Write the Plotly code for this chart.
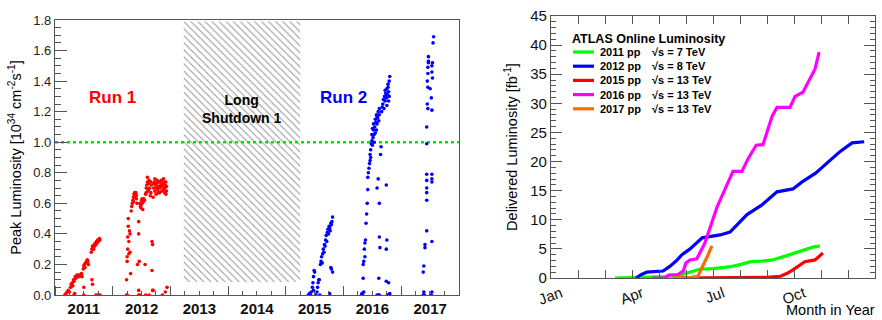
import datetime as dt
import plotly.graph_objects as go

# ---------------- Peak luminosity per fill (decimal year, 1e34 cm^-2 s^-1) ----------------
run1_2011_t = [2011.17, 2011.19, 2011.21, 2011.23, 2011.25, 2011.27, 2011.28, 2011.30, 2011.31, 2011.32,
               2011.33, 2011.35, 2011.36, 2011.38, 2011.39, 2011.41, 2011.42, 2011.44, 2011.46, 2011.47,
               2011.49, 2011.50, 2011.51, 2011.52, 2011.53, 2011.55, 2011.56, 2011.57, 2011.58, 2011.63,
               2011.64, 2011.65, 2011.66, 2011.67, 2011.68, 2011.69, 2011.70, 2011.71, 2011.72, 2011.73,
               2011.74, 2011.75, 2011.76, 2011.77, 2011.78, 2011.34, 2011.33, 2011.50, 2011.50, 2011.64,
               2011.65, 2011.71, 2011.74, 2011.78]
run1_2011_l = [0.00, 0.01, 0.02, 0.03, 0.02, 0.05, 0.07, 0.08, 0.06, 0.10,
               0.09, 0.12, 0.11, 0.13, 0.12, 0.13, 0.12, 0.13, 0.14, 0.12,
               0.17, 0.19, 0.20, 0.18, 0.21, 0.22, 0.23, 0.22, 0.20, 0.28,
               0.30, 0.32, 0.31, 0.30, 0.33, 0.32, 0.34, 0.33, 0.35, 0.34,
               0.36, 0.35, 0.36, 0.37, 0.36, 0.01, 0.00, 0.00, 0.05, 0.10,
               0.07, 0.00, 0.00, 0.00]

run1_2012_t = [2012.24, 2012.24, 2012.25, 2012.25, 2012.26, 2012.26, 2012.27, 2012.27, 2012.28, 2012.28,
               2012.29, 2012.30, 2012.30, 2012.31, 2012.32, 2012.33, 2012.34, 2012.35, 2012.36, 2012.37,
               2012.38, 2012.39, 2012.40, 2012.41, 2012.42, 2012.43, 2012.45, 2012.45, 2012.46, 2012.47,
               2012.48, 2012.49, 2012.50, 2012.51, 2012.52, 2012.53, 2012.54, 2012.55, 2012.56, 2012.57,
               2012.58, 2012.59, 2012.60, 2012.61, 2012.62, 2012.63, 2012.64, 2012.65, 2012.66, 2012.67,
               2012.68, 2012.68, 2012.69, 2012.70, 2012.71, 2012.72, 2012.73, 2012.74, 2012.75, 2012.76,
               2012.77, 2012.78, 2012.79, 2012.80, 2012.81, 2012.82, 2012.83, 2012.84, 2012.85, 2012.86,
               2012.87, 2012.88, 2012.89, 2012.90, 2012.91, 2012.92, 2012.93, 2012.25, 2012.45, 2012.48,
               2012.57, 2012.69, 2012.70, 2012.63, 2012.86, 2012.91, 2012.94, 2012.45,
               2012.36, 2012.38, 2012.40, 2012.41, 2012.49, 2012.51, 2012.58, 2012.60, 2012.62, 2012.66,
               2012.71, 2012.73, 2012.76, 2012.79, 2012.82, 2012.85, 2012.88, 2012.90, 2012.92, 2012.93]
run1_2012_l = [0.00, 0.10, 0.22, 0.25, 0.30, 0.38, 0.45, 0.50, 0.27, 0.35,
               0.42, 0.40, 0.28, 0.14, 0.55, 0.58, 0.60, 0.62, 0.64, 0.66,
               0.67, 0.65, 0.66, 0.63, 0.60, 0.20, 0.48, 0.40, 0.22, 0.60,
               0.58, 0.57, 0.62, 0.60, 0.56, 0.61, 0.63, 0.62, 0.20, 0.66,
               0.70, 0.72, 0.77, 0.68, 0.73, 0.75, 0.70, 0.65, 0.67, 0.72,
               0.35, 0.16, 0.33, 0.64, 0.70, 0.74, 0.68, 0.72, 0.66, 0.73,
               0.75, 0.69, 0.71, 0.74, 0.67, 0.70, 0.72, 0.75, 0.68, 0.71,
               0.73, 0.69, 0.74, 0.70, 0.72, 0.66, 0.71, 0.00, 0.00, 0.00,
               0.00, 0.03, 0.03, 0.00, 0.00, 0.02, 0.05, 0.03,
               0.61, 0.64, 0.67, 0.65, 0.59, 0.63, 0.67, 0.74, 0.69, 0.74,
               0.73, 0.76, 0.70, 0.67, 0.74, 0.72, 0.76, 0.67, 0.74, 0.68]

run2_2015_t = [2015.39, 2015.41, 2015.43, 2015.44, 2015.46, 2015.47, 2015.48, 2015.49, 2015.50, 2015.48,
               2015.52, 2015.54, 2015.55, 2015.56, 2015.57, 2015.58, 2015.59, 2015.60, 2015.61, 2015.62,
               2015.63, 2015.64, 2015.65, 2015.66, 2015.67, 2015.68, 2015.69, 2015.70, 2015.71, 2015.72,
               2015.73, 2015.74, 2015.75, 2015.76, 2015.77, 2015.78, 2015.79, 2015.80, 2015.81, 2015.79,
               2015.81, 2015.76, 2015.78]
run2_2015_l = [0.00, 0.01, 0.00, 0.02, 0.05, 0.08, 0.12, 0.16, 0.15, 0.03,
               0.00, 0.02, 0.05, 0.08, 0.10, 0.10, 0.00, 0.20, 0.22, 0.25,
               0.21, 0.27, 0.30, 0.28, 0.33, 0.32, 0.36, 0.39, 0.35, 0.41,
               0.43, 0.40, 0.45, 0.44, 0.42, 0.47, 0.46, 0.48, 0.51, 0.17,
               0.15, 0.01, 0.18]

run2_2016_t = [2016.31, 2016.32, 2016.33, 2016.35, 2016.34, 2016.34, 2016.35, 2016.36, 2016.37, 2016.38,
               2016.37, 2016.39, 2016.40, 2016.41, 2016.42, 2016.42, 2016.43, 2016.44, 2016.45, 2016.46,
               2016.46, 2016.47, 2016.48, 2016.49, 2016.49, 2016.50, 2016.51, 2016.52, 2016.52, 2016.53,
               2016.54, 2016.55, 2016.56, 2016.57, 2016.57, 2016.58, 2016.59, 2016.60, 2016.61, 2016.62,
               2016.62, 2016.58, 2016.60, 2016.62, 2016.62, 2016.63, 2016.61, 2016.58, 2016.60, 2016.62,
               2016.64, 2016.66, 2016.68, 2016.69, 2016.70, 2016.71, 2016.72, 2016.73, 2016.74, 2016.75,
               2016.75, 2016.76, 2016.77, 2016.78, 2016.79, 2016.80, 2016.78, 2016.74, 2016.75, 2016.74,
               2016.74, 2016.78, 2016.76, 2016.79, 2016.80,
               2016.47, 2016.50, 2016.53, 2016.55, 2016.58, 2016.65, 2016.67, 2016.72, 2016.77, 2016.79]
run2_2016_l = [0.00, 0.01, 0.00, 0.02, 0.11, 0.20, 0.22, 0.30, 0.34, 0.36,
               0.25, 0.47, 0.53, 0.60, 0.69, 0.77, 0.80, 0.83, 0.86, 0.88,
               0.92, 0.95, 0.99, 1.01, 1.05, 0.98, 1.03, 1.08, 1.12, 1.05,
               1.10, 1.15, 1.13, 1.18, 1.08, 1.12, 1.16, 1.20, 1.14, 1.18,
               1.22, 0.70, 0.76, 0.60, 0.38, 0.31, 0.11, 0.00, 0.00, 0.00,
               0.92, 1.20, 1.25, 1.28, 1.22, 1.30, 1.27, 1.32, 1.29, 1.35,
               1.24, 1.31, 1.38, 1.33, 1.40, 1.43, 1.27, 0.72, 0.36, 0.30,
               0.09, 0.08, 0.00, 0.00, 0.01,
               0.90, 1.09, 1.00, 1.06, 1.17, 0.97, 1.23, 1.34, 1.36, 1.30]

run2_2017_t = [2017.38, 2017.39, 2017.40, 2017.38, 2017.39, 2017.41, 2017.41, 2017.44, 2017.44, 2017.44,
               2017.44, 2017.44, 2017.44, 2017.53, 2017.53, 2017.53, 2017.53, 2017.53, 2017.52, 2017.44,
               2017.44, 2017.45, 2017.46, 2017.53, 2017.52, 2017.50, 2017.46, 2017.46, 2017.46, 2017.47,
               2017.53, 2017.53, 2017.54, 2017.47, 2017.47, 2017.55, 2017.56, 2017.45, 2017.54]
run2_2017_l = [0.00, 0.02, 0.00, 0.15, 0.19, 0.31, 0.33, 0.42, 0.62, 0.67,
               0.70, 0.75, 0.79, 0.79, 0.76, 0.74, 0.35, 0.02, 0.00, 0.99,
               1.10, 1.25, 1.22, 1.21, 1.29, 1.35, 1.36, 1.45, 1.49, 1.52,
               1.46, 1.50, 1.52, 1.53, 1.56, 1.65, 1.69, 1.40, 1.42]

design_lumi = 1.0                         # nominal LHC design peak luminosity
shutdown_start, shutdown_end = 2013.23, 2015.25
shutdown_band = (0.085, 1.79)
year_edges = ("2011-01-01", "2018-01-01")

# ---------------- Cumulative delivered luminosity (month of year, fb^-1) ----------------
month_names = ["Jan", "Apr", "Jul", "Oct"]
month_pos = [0, 3, 6, 9]

cum_2011_m = [2.37, 3.0, 3.8, 4.3, 4.78, 5.1, 5.5, 6.0, 6.6, 7.0, 7.4, 7.8, 8.2, 8.7, 9.15, 9.7, 9.96]
cum_2011_l = [0.0, 0.1, 0.2, 0.25, 0.5, 1.0, 1.5, 1.6, 1.9, 2.3, 2.8, 2.9, 3.1, 3.8, 4.5, 5.3, 5.5]

cum_2012_m = [3.15, 3.35, 3.55, 3.9, 4.15, 4.4, 4.65, 4.85, 5.15, 5.6, 6.26, 6.63, 7.26, 7.8, 8.37, 8.96,
              9.3, 9.8, 10.4, 10.7, 11.15, 11.6]
cum_2012_l = [0.0, 0.6, 1.0, 1.1, 1.2, 2.0, 3.0, 4.0, 5.0, 6.9, 7.4, 7.9, 10.9, 12.5, 14.8, 15.3,
              16.5, 18.0, 20.5, 21.7, 23.2, 23.4]

cum_2015_m = [4.65, 6.0, 7.0, 8.0, 8.5, 8.75, 8.96, 9.2, 9.4, 9.78, 10.07]
cum_2015_l = [0.0, 0.02, 0.05, 0.1, 0.3, 0.8, 1.4, 2.2, 2.8, 3.1, 4.3]

cum_2016_m = [3.75, 4.2, 4.35, 4.7, 4.9, 5.0, 5.15, 5.4, 5.7, 6.15, 6.74, 7.07, 7.3, 7.6, 7.85,
              8.19, 8.37, 8.85, 9.04, 9.33, 9.52, 9.78, 9.93]
cum_2016_l = [0.0, 0.0, 0.5, 0.6, 1.2, 2.6, 3.1, 3.3, 6.0, 12.2, 18.3, 18.3, 20.5, 22.8, 22.9,
              27.8, 29.3, 29.3, 31.2, 31.9, 33.6, 35.9, 38.8]

cum_2017_m = [4.5, 4.8, 5.2, 5.44, 5.6, 5.8, 5.96]
cum_2017_l = [0.0, 0.05, 0.1, 0.3, 1.8, 3.8, 5.5]

series_years = ["2011 pp", "2012 pp", "2015 pp", "2016 pp", "2017 pp"]
series_energy = ["√s = 7 TeV", "√s = 8 TeV", "√s = 13 TeV", "√s = 13 TeV", "√s = 13 TeV"]
series_colors = ["#00ff00", "#0000ff", "#ff0000", "#ff00ff", "#ff6a00"]

FONT = "Liberation Sans, Arial, Helvetica, sans-serif"
AXIS = "#555555"
W, H = 882, 320


def to_date(decimal_year):
    """Turn a decimal year into a datetime for the date axis."""
    year = int(decimal_year)
    start = dt.datetime(year, 1, 1)
    length = (dt.datetime(year + 1, 1, 1) - start).total_seconds()
    return start + dt.timedelta(seconds=(decimal_year - year) * length)


def px_x(p):
    return p / W


def px_y(p):
    return 1 - p / H


fig = go.Figure()

# Long Shutdown 1 hatched band
band_x = [to_date(shutdown_start), to_date(shutdown_end), to_date(shutdown_end),
          to_date(shutdown_start), to_date(shutdown_start)]
band_y = [shutdown_band[0], shutdown_band[0], shutdown_band[1], shutdown_band[1], shutdown_band[0]]
fig.add_trace(go.Scatter(
    x=band_x, y=band_y, mode="lines", fill="toself", line=dict(width=0),
    fillcolor="rgba(0,0,0,0)",
    fillpattern=dict(shape="\\", fgcolor="#2a2a2a", bgcolor="white", size=5, solidity=0.2),
    xaxis="x", yaxis="y", showlegend=False, hoverinfo="skip"))

# design luminosity reference line
fig.add_trace(go.Scatter(
    x=list(year_edges), y=[design_lumi, design_lumi], mode="lines",
    line=dict(color="#00e600", width=2.5, dash="dot"),
    xaxis="x", yaxis="y", showlegend=False, hoverinfo="skip"))

peak_sets = [(run1_2011_t, run1_2011_l, "red"), (run1_2012_t, run1_2012_l, "red"),
             (run2_2015_t, run2_2015_l, "blue"), (run2_2016_t, run2_2016_l, "blue"),
             (run2_2017_t, run2_2017_l, "blue")]
for t, lum, col in peak_sets:
    fig.add_trace(go.Scatter(
        x=[to_date(v) for v in t], y=lum, mode="markers",
        marker=dict(color=col, size=3.6, line=dict(width=0)),
        xaxis="x", yaxis="y", showlegend=False))

# cumulative luminosity curves
cum_sets = [(cum_2011_m, cum_2011_l), (cum_2012_m, cum_2012_l), (cum_2015_m, cum_2015_l),
            (cum_2016_m, cum_2016_l), (cum_2017_m, cum_2017_l)]
for (m, lum), name, col in zip(cum_sets, series_years, series_colors):
    fig.add_trace(go.Scatter(
        x=m, y=lum, mode="lines", name=name,
        line=dict(color=col, width=3.2),
        xaxis="x2", yaxis="y2", showlegend=False))

annotations = [
    dict(x=to_date(2012.0), y=1.29, xref="x", yref="y", text="<b>Run 1</b>", showarrow=False,
         font=dict(family=FONT, size=17, color="red")),
    dict(x=to_date(2014.24), y=1.22, xref="x", yref="y", text="<b>Long<br>Shutdown 1</b>",
         showarrow=False, font=dict(family=FONT, size=14, color="black")),
    dict(x=to_date(2016.0), y=1.29, xref="x", yref="y", text="<b>Run 2</b>", showarrow=False,
         font=dict(family=FONT, size=17, color="blue")),
    dict(x=px_x(877), y=px_y(310), xref="paper", yref="paper", text="Month in Year",
         showarrow=False, xanchor="right", yanchor="middle",
         font=dict(family=FONT, size=14.5, color="black")),
    dict(x=px_x(570), y=px_y(39), xref="paper", yref="paper",
         text="<b>ATLAS Online Luminosity</b>", showarrow=False,
         xanchor="left", yanchor="middle", font=dict(family=FONT, size=12.5, color="black")),
]

# hand-placed legend block
shapes = []
for i, (yr, en, col) in enumerate(zip(series_years, series_energy, series_colors)):
    yc = px_y(52 + 14.2 * i)
    shapes.append(dict(type="line", xref="paper", yref="paper",
                       x0=px_x(573), x1=px_x(594), y0=yc, y1=yc,
                       line=dict(color=col, width=3.2)))
    annotations.append(dict(x=px_x(598), y=yc, xref="paper", yref="paper",
                            text=f"<b>{yr}</b>", showarrow=False, xanchor="left",
                            yanchor="middle", font=dict(family=FONT, size=11, color="black")))
    annotations.append(dict(x=px_x(650), y=yc, xref="paper", yref="paper",
                            text=f"<b>{en}</b>", showarrow=False, xanchor="left",
                            yanchor="middle", font=dict(family=FONT, size=11, color="black")))

fig.update_layout(
    width=W, height=H,
    margin=dict(l=0, r=0, t=0, b=0),
    paper_bgcolor="white", plot_bgcolor="white",
    font=dict(family=FONT, color="black"),
    annotations=annotations,
    shapes=shapes,
    showlegend=False,
    xaxis=dict(
        domain=[px_x(55), px_x(459)], anchor="y", type="date", automargin=False,
        range=list(year_edges), tick0="2011-01-01", dtick="M12",
        ticklabelmode="period", tickformat="%Y",
        ticks="inside", ticklen=9, tickcolor=AXIS, tickwidth=1,
        minor=dict(dtick="M3", ticks="inside", ticklen=4, tickcolor=AXIS),
        tickfont=dict(family=FONT, size=15, weight="bold", color="#111"),
        showline=True, linecolor=AXIS, linewidth=1.2, mirror=True,
        showgrid=False, zeroline=False),
    yaxis=dict(
        domain=[1 - 295 / H, 1 - 20 / H], anchor="x", automargin=False,
        range=[0, 1.8], dtick=0.2, tickformat=".1f",
        ticks="inside", ticklen=12, tickcolor=AXIS,
        minor=dict(dtick=0.05, ticks="inside", ticklen=6, tickcolor=AXIS),
        tickfont=dict(family=FONT, size=13, color="#222"),
        title=dict(text="Peak Luminosity [10<sup>34</sup> cm<sup>-2</sup>s<sup>-1</sup>]",
                   font=dict(family=FONT, size=14.5), standoff=8),
        showline=True, linecolor=AXIS, linewidth=1.2, mirror=True,
        showgrid=False, zeroline=False),
    xaxis2=dict(
        domain=[px_x(551), px_x(875)], anchor="y2", automargin=False,
        range=[0, 12], tickvals=month_pos, ticktext=month_names, tickangle=-20,
        ticklabelshift=10,
        ticks="inside", ticklen=8, tickcolor=AXIS,
        minor=dict(dtick=1, tick0=0, ticks="inside", ticklen=8, tickcolor=AXIS),
        tickfont=dict(family=FONT, size=15, color="#111"),
        showline=True, linecolor=AXIS, linewidth=1.2, mirror="allticks",
        showgrid=False, zeroline=False),
    yaxis2=dict(
        domain=[1 - 278 / H, 1 - 16 / H], anchor="x2", automargin=False,
        range=[0, 45], dtick=5,
        ticks="inside", ticklen=11, tickcolor=AXIS,
        minor=dict(dtick=1, ticks="inside", ticklen=5, tickcolor=AXIS),
        tickfont=dict(family=FONT, size=15, color="#111"),
        title=dict(text="Delivered Luminosity [fb<sup>-1</sup>]",
                   font=dict(family=FONT, size=14.5), standoff=9),
        showline=True, linecolor=AXIS, linewidth=1.2, mirror="allticks",
        showgrid=False, zeroline=False),
)

fig.write_html("out.html")
